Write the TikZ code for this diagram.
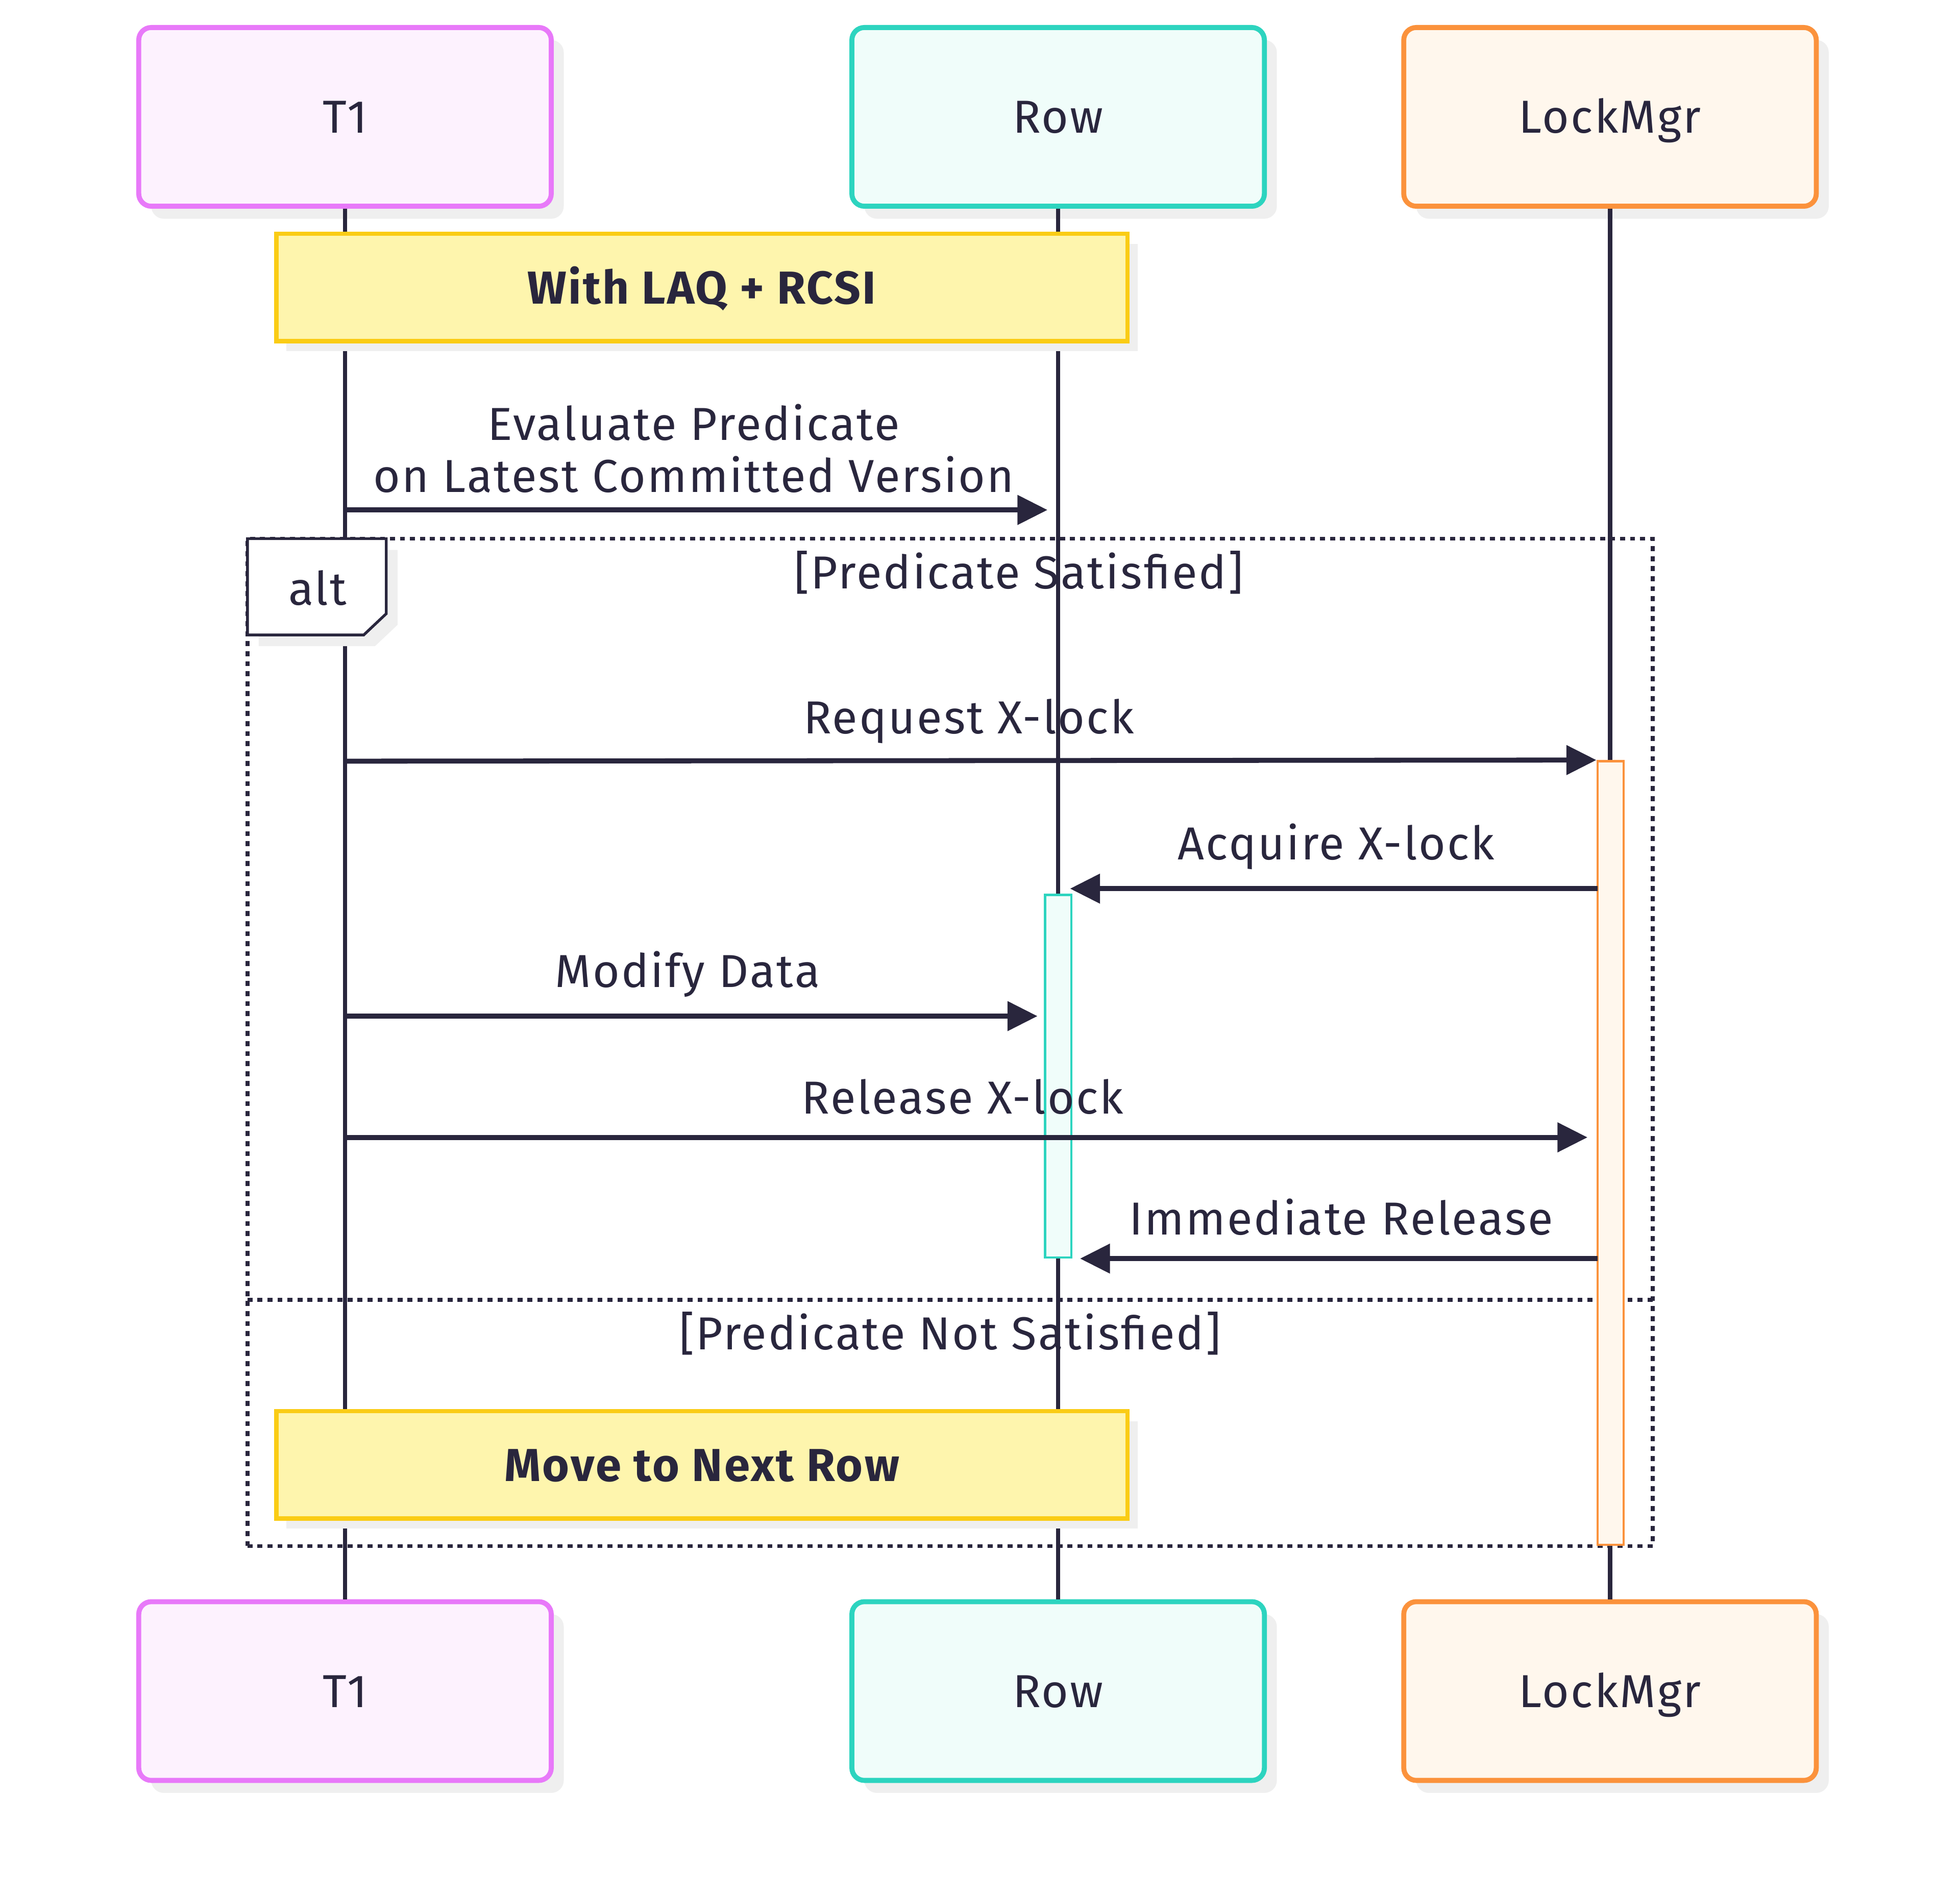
\documentclass[tikz,border=0pt]{standalone}
\usepackage{fontspec}
\setmainfont{Fira Sans}[LetterSpace=3.5]
\usetikzlibrary{shadows,arrows.meta}
\definecolor{ink}{HTML}{29263D}
\definecolor{shade}{HTML}{EFEFEF}
\definecolor{tonef}{HTML}{FDF2FE}
\definecolor{toneb}{HTML}{E879F9}
\definecolor{rowf}{HTML}{F0FDFA}
\definecolor{rowb}{HTML}{2DD4BF}
\definecolor{lmf}{HTML}{FFF7ED}
\definecolor{lmb}{HTML}{FB923C}
\definecolor{notef}{HTML}{FEF5AD}
\definecolor{noteb}{HTML}{FACC15}
\newcommand\lblfont{\fontsize{37}{44}\selectfont}
\tikzset{
  x=1pt, y=-1pt,
  actor/.style={rounded corners=10pt, line width=4pt, minimum width=330pt, minimum height=143pt,
    drop shadow={shadow xshift=10pt, shadow yshift=-10pt, fill=shade, opacity=1},
    font=\lblfont, text=ink, inner sep=0pt, text height=26pt, text depth=0pt},
  notebox/.style={draw=noteb, fill=notef, line width=3.5pt, minimum width=681pt, minimum height=86pt,
    drop shadow={shadow xshift=8pt, shadow yshift=-8pt, fill=shade, opacity=1},
    font=\lblfont\bfseries, text=ink, inner sep=0pt, text height=26pt, text depth=0pt},
  actbox/.style={line width=1.8pt, minimum width=21pt, inner sep=0pt},
  life/.style={draw=ink, line width=3.5pt},
  msg/.style={draw=ink, line width=4pt, -{Triangle[length=24pt,width=23pt]}},
  lbl/.style={font=\lblfont, text=ink, inner sep=0pt, anchor=base},
  framestyle/.style={draw=ink, line width=3.2pt, dash pattern=on 4pt off 4pt},
}
\begin{document}
\begin{tikzpicture}
\useasboundingbox (0,0) rectangle (1568,1519);
% actors
\node[actor, draw=toneb, fill=tonef] (t1top) at (276,93.5) {T1};
\node[actor, draw=rowb, fill=rowf] (rowtop) at (846.5,93.5) {Row};
\node[actor, draw=lmb, fill=lmf] (lmtop) at (1288,93.5) {LockMgr};
\node[actor, draw=toneb, fill=tonef] (t1bot) at (276,1353) {T1};
\node[actor, draw=rowb, fill=rowf] (rowbot) at (846.5,1353) {Row};
\node[actor, draw=lmb, fill=lmf] (lmbot) at (1288,1353) {LockMgr};
% lifelines
\draw[life] (t1top.south) -- (t1bot.north);
\draw[life] (rowtop.south) -- (rowbot.north);
\draw[life] (lmtop.south) -- (lmbot.north);
% alt frame
\node[framestyle, minimum width=1124pt, minimum height=806pt, inner sep=0pt] (altframe) at (760,834) {};
\coordinate (divl) at (198,1040);
\coordinate (divr) at (1322,1040);
\draw[framestyle] (divl) -- (divr);
% activations
\node[actbox, draw=lmb, fill=lmf, minimum height=627pt] (lmact) at (1288.5,922.5) {};
\node[actbox, draw=rowb, fill=rowf, minimum height=290pt] (rowact) at (846.5,861) {};
% notes
\node[notebox] (note1) at (561.5,230) {With LAQ + RCSI};
\node[notebox] (note2) at (561.5,1172) {Move to Next Row};
% alt label
\path[draw=ink, line width=2.2pt, fill=white,
  drop shadow={shadow xshift=9pt, shadow yshift=-9pt, fill=shade, opacity=1}]
  (198,431) -- (309,431) -- (309,491) -- (291,508) -- (198,508) -- cycle;
\node[lbl] (altlbl) at (254,484) {alt};
\node[lbl] (cond1) at (815,471) {[Predicate Satisfied]};
\node[lbl] (cond2) at (760,1080) {[Predicate Not Satisfied]};
% messages
\coordinate (m1a) at (276,408); \coordinate (m1b) at (838,408);
\draw[msg] (m1a) -- (m1b);
\node[lbl] (l1a) at (555,352) {Evaluate Predicate};
\node[lbl] (l1b) at (555,394) {on Latest Committed Version};
\coordinate (m2a) at (276,609);
\draw[msg] (m2a) -- (lmact.north west);
\node[lbl] (l2) at (775,587) {Request X-lock};
\coordinate (m3a) at (1278,711); \coordinate (m3b) at (856,711);
\draw[msg] (m3a) -- (m3b);
\node[lbl] (l3) at (1069,688) {Acquire X-lock};
\coordinate (m4a) at (276,813); \coordinate (m4b) at (830,813);
\draw[msg] (m4a) -- (m4b);
\node[lbl] (l4) at (550,790) {Modify Data};
\coordinate (m5a) at (276,910); \coordinate (m5b) at (1270,910);
\draw[msg] (m5a) -- (m5b);
\node[lbl] (l5) at (770,891) {Release X-lock};
\coordinate (m6a) at (1278,1007); \coordinate (m6b) at (864,1007);
\draw[msg] (m6a) -- (m6b);
\node[lbl] (l6) at (1073,988) {Immediate Release};
\end{tikzpicture}
\end{document}
